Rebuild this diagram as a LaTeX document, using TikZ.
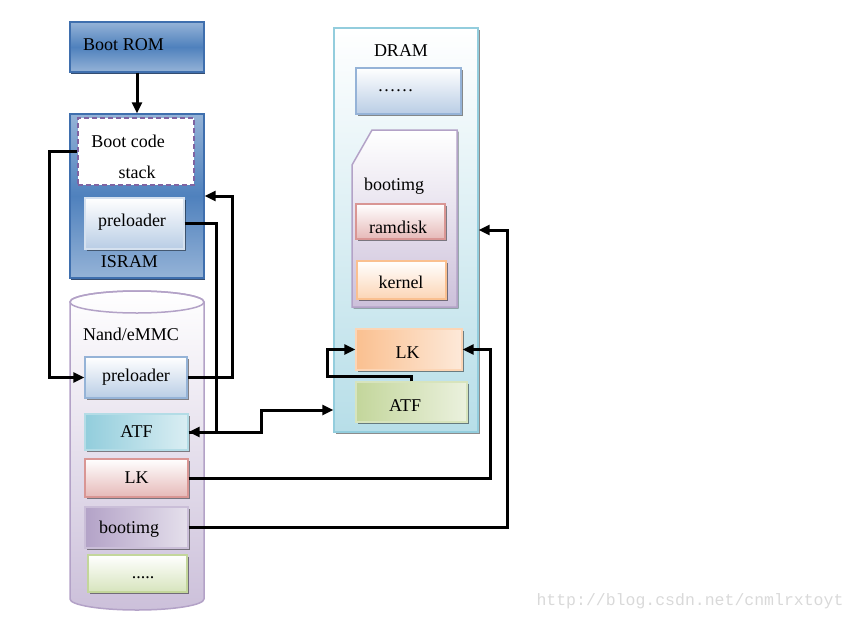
\documentclass[tikz,border=0pt]{standalone}
\usepackage{fontspec}
\setmainfont{Liberation Serif}
\newfontfamily\wmfont{Liberation Mono}
\usetikzlibrary{arrows.meta,shadows}

\definecolor{romdark}{HTML}{4F81BD}
\definecolor{romlight}{HTML}{95B3D7}
\definecolor{romedge}{HTML}{3F6FAE}
\definecolor{pregrad}{HTML}{B9CDE5}
\definecolor{preedge}{HTML}{95B3D7}
\definecolor{atfdark}{HTML}{92CDDC}
\definecolor{atflight}{HTML}{DAEEF3}
\definecolor{lkred}{HTML}{E6B9B8}
\definecolor{lkedge}{HTML}{D99694}
\definecolor{bootdark}{HTML}{B3A2C7}
\definecolor{bootlight}{HTML}{E5E0EC}
\definecolor{dotgreen}{HTML}{D7E4BD}
\definecolor{dotedge}{HTML}{C3D69B}
\definecolor{nandlav}{HTML}{CCC0DA}
\definecolor{dramblue}{HTML}{B7DEE8}
\definecolor{dramedge}{HTML}{93CDDD}
\definecolor{kernorange}{HTML}{FCD5B5}
\definecolor{kernedge}{HTML}{FAC090}
\definecolor{lklight}{HTML}{FDE9D9}
\definecolor{atfgreen}{HTML}{C3D69B}
\definecolor{atfpale}{HTML}{EBF1DE}
\definecolor{dashpurple}{HTML}{8064A2}
\definecolor{romshadow}{HTML}{1F3A60}

\begin{document}
\begin{tikzpicture}[x=1pt,y=-1pt,>={Triangle[length=11pt,width=10pt]},
		every node/.style={font=\fontsize{18}{20}\selectfont},
		lbl/.style={inner sep=0pt},
		boxshadow/.style={drop shadow={shadow xshift=1.5pt,shadow yshift=-1.5pt,fill=black,opacity=0.45}},
		box/.style={draw,inner sep=0pt,line width=1.3pt,boxshadow},
		bluebox/.style={draw=romedge,inner sep=0pt,line width=1.3pt,
			drop shadow={shadow xshift=1pt,shadow yshift=-2pt,fill=romshadow,opacity=0.9},
			top color=romlight,bottom color=romlight,middle color=romdark},
		prebox/.style={box,draw=preedge,top color=white,bottom color=pregrad},
		wire/.style={line width=3pt}]
		\useasboundingbox (0,0) rectangle (856,621);
		% left column: Boot ROM and ISRAM
		\node[bluebox,minimum width=134pt,minimum height=50pt] (bootrom) at (137,47) {};
		\node[lbl] (romtxt) at (123.5,45) {Boot ROM};
		\node[bluebox,minimum width=134pt,minimum height=164pt] (isram) at (137,196) {};
		\node[draw=dashpurple,fill=white,line width=1.8pt,dash pattern=on 5pt off 3pt,
			minimum width=116pt,minimum height=67pt] (bootcode) at (136,151.5) {};
		\node[lbl] (codetxt) at (128,141) {Boot code};
		\node[lbl] (stacktxt) at (137,172) {stack};
		\node[prebox,draw=pregrad!60,minimum width=99pt,minimum height=51pt] (srampre) at (134.5,223.5) {};
		\node[lbl] (sramtxt) at (132,222) {preloader};
		\node[lbl] (isramtxt) at (129.5,262) {ISRAM};
		% Nand/eMMC cylinder
		\draw[bootdark,line width=1.5pt,top color=white,bottom color=nandlav]
			(70,302) -- (70,599) arc[start angle=180,end angle=360,x radius=67pt,y radius=11pt]
			-- (204,302) arc[start angle=0,end angle=180,x radius=67pt,y radius=11pt] -- cycle;
		\draw[bootdark,line width=1.5pt] (137,302) ellipse[x radius=67pt,y radius=11pt];
		\node[lbl] (nandtxt) at (131,334) {Nand/eMMC};
		\node[prebox,minimum width=102pt,minimum height=41pt] (nandpre) at (136,377.5) {preloader};
		\node[box,draw=atfdark!70,left color=atfdark,right color=atflight,minimum width=103pt,minimum height=36pt] (nandatf) at (136.5,432) {ATF};
		\node[box,draw=lkedge,top color=white,bottom color=lkred,minimum width=103pt,minimum height=38pt] (nandlk) at (136.5,478) {LK};
		\node[box,draw=bootdark!70,left color=bootdark,right color=bootlight,minimum width=103pt,minimum height=41pt] (nandboot) at (136.5,527.5) {};
		\node[lbl] (nandboottxt) at (129,529) {bootimg};
		\node[box,draw=dotedge,top color=white,bottom color=dotgreen,minimum width=99pt,minimum height=37pt] (nanddots) at (137.5,573.5) {};
		\node[lbl] (dotstxt) at (143,578) {.....};
		% DRAM
		\node[box,draw=dramedge,top color=white,bottom color=dramblue,minimum width=144pt,minimum height=404pt] (dram) at (406,230) {};
		\node[lbl] (dramtxt) at (401,51) {DRAM};
		\node[prebox,minimum width=105pt,minimum height=46pt] (dramdots) at (408.5,91) {};
		\node[lbl] (dramdotstxt) at (395.5,91) {……};
		\draw[bootdark,line width=1.5pt,top color=white,bottom color=nandlav,boxshadow]
			(372,130) -- (457,130) -- (457,307) -- (352,307) -- (352,165) -- cycle;
		\node[lbl] (dramboottxt) at (394,186) {bootimg};
		\node[box,draw=lkedge,top color=white,bottom color=lkred,minimum width=89pt,minimum height=35pt] (ramdisk) at (400.5,221.5) {};
		\node[lbl] (ramdisktxt) at (398,227) {ramdisk};
		\node[box,draw=kernedge,top color=white,bottom color=kernorange,minimum width=89pt,minimum height=38pt] (kernel) at (401.5,280) {};
		\node[lbl] (kerneltxt) at (401,282) {kernel};
		\node[box,draw=kernorange,left color=kernedge,right color=lklight,minimum width=106pt,minimum height=41pt] (dramlk) at (409,349.5) {};
		\node[lbl] (dramlktxt) at (407.5,352.5) {LK};
		\node[box,draw=dotgreen,left color=atfgreen,right color=atfpale,minimum width=111pt,minimum height=40pt] (dramatf) at (411.5,402) {};
		\node[lbl] (dramatftxt) at (405,406) {ATF};
		% connectors
		\draw[wire,->] (bootrom.south) -- (isram.north);
		\draw[wire,->] (bootcode.west) -- ++(-28,0) |- (nandpre.west);
		\draw[wire,->] (nandpre.east) -- ++(45,0) |- (isram.east);
		\draw[wire,->] (srampre.east) -- ++(32,0) |- (nandatf.east);
		\draw[wire,->] (nandatf.east) -- ++(73,0) |- ([yshift=-180pt]dram.west);
		\draw[wire,->] (dramatf.north) -- ++(0,-5) -| ([xshift=-28pt]dramlk.west) -- (dramlk.west);
		\draw[wire,->] (nandlk.east) -| ([xshift=28pt]dramlk.east) -- (dramlk.east);
		\draw[wire,->] (nandboot.east) -| ([xshift=29pt]dram.east) -- (dram.east);
		% watermark
		\node[lbl,font=\wmfont\fontsize{16.5}{18}\selectfont,text=black!15] (wmark) at (690,601) {http://blog.csdn.net/cnmlrxtoyt};
	\end{tikzpicture}
\end{document}
